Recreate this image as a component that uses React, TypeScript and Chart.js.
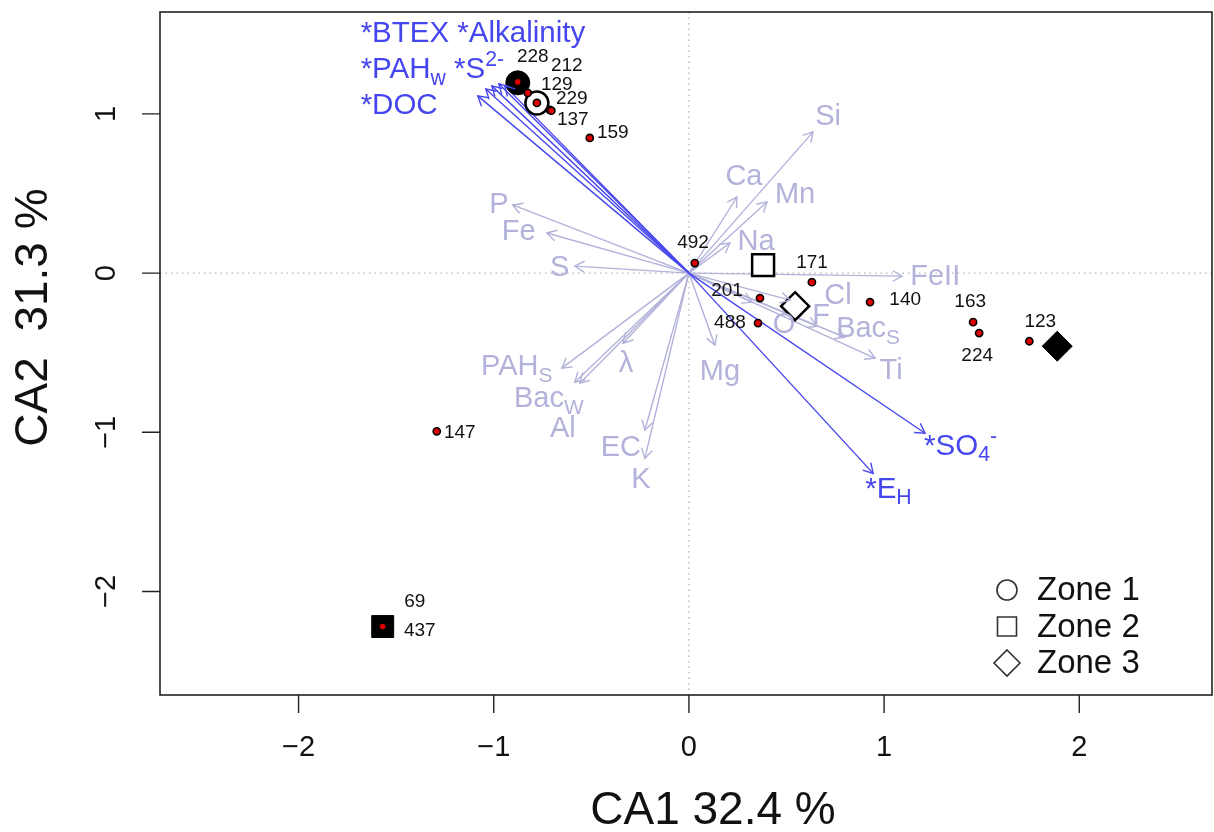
import React, { useEffect, useRef } from "react";
import { Chart, registerables } from "chart.js";
Chart.register(...registerables);

// ---------- axes ----------
const xTicks = [-2, -1, 0, 1, 2];
const yTicks = [-2, -1, 0, 1];
const xMin = -2.71, xMax = 2.68;
const yMin = -2.65, yMax = 1.64;
const xTitle = "CA1 32.4 %";
const yTitle = "CA2  31.3 %";

// ---------- environmental variables (not significant, light) ----------
const envNames = ["Si", "Ca", "Mn", "Na", "P", "Fe", "S", "FeII", "Cl", "F", "O", "Bac_{S}", "Ti", "Mg", "PAH_{S}", "λ", "Bac_{W}", "Al", "EC", "K"];
const envX = [0.636, 0.246, 0.4, 0.21, -0.903, -0.728, -0.585, 1.092, 0.518, 0.656, 0.323, 0.8, 0.954, 0.133, -0.651, -0.338, -0.585, -0.559, -0.226, -0.226];
const envY = [0.887, 0.478, 0.447, 0.189, 0.428, 0.252, 0.044, -0.019, -0.17, -0.333, -0.182, -0.403, -0.535, -0.453, -0.597, -0.44, -0.686, -0.692, -0.987, -1.164];
const envLabelX = [0.713, 0.282, 0.544, 0.344, -0.974, -0.872, -0.662, 1.262, 0.764, 0.677, 0.487, 0.918, 1.036, 0.159, -0.882, -0.323, -0.718, -0.646, -0.349, -0.246];
const envLabelY = [0.981, 0.604, 0.491, 0.195, 0.428, 0.258, 0.031, -0.025, -0.145, -0.27, -0.327, -0.352, -0.616, -0.623, -0.591, -0.572, -0.792, -0.981, -1.1, -1.302];

// ---------- significant variables (blue) ----------
const sigNames = ["*DOC", "*PAH_{w}", "*S^{2-}", "*BTEX", "*Alkalinity", "*SO_{4}^{-}", "*E_{H}"];
const sigX = [-1.082, -1.041, -1.01, -0.974, -0.944, 1.21, 0.944];
const sigY = [1.113, 1.157, 1.176, 1.189, 1.176, -1.006, -1.258];
const sigLabelText = ["*BTEX *Alkalinity", "*PAH_{w} *S^{2-}", "*DOC", "*SO_{4}^{-}", "*E_{H}"];
const sigLabelX = [-1.682, -1.682, -1.682, 1.205, 0.903];
const sigLabelY = [1.505, 1.275, 1.052, -1.09, -1.36];

// ---------- sites ----------
const siteNames = ["228", "212", "129", "229", "137", "159", "492", "171", "201", "488", "140", "163", "224", "123", "147", "69", "437"];
const siteX = [-0.877, -0.826, -0.779, -0.713, -0.705, -0.508, 0.03, 0.63, 0.364, 0.354, 0.928, 1.456, 1.487, 1.744, -1.292, -1.569, -1.569];
const siteY = [1.201, 1.132, 1.069, 1.025, 1.02, 0.849, 0.063, -0.057, -0.157, -0.314, -0.182, -0.308, -0.377, -0.428, -0.994, -2.22, -2.22];
const siteLabelX = [-0.8, -0.626, -0.677, -0.6, -0.595, -0.39, 0.021, 0.631, 0.195, 0.21, 1.108, 1.441, 1.477, 1.8, -1.174, -1.405, -1.379];
const siteLabelY = [1.358, 1.302, 1.182, 1.094, 0.962, 0.88, 0.189, 0.063, -0.113, -0.314, -0.17, -0.182, -0.522, -0.308, -1.0, -2.063, -2.245];

// ---------- zone markers ----------
const zoneNames = ["Zone 1", "Zone 2", "Zone 3"];
const zoneStyles = ["circle", "rect", "rectRot"];
const openX = [-0.779, 0.38, 0.544];
const openY = [1.069, 0.05, -0.208];
const filledX = [-0.877, -1.569, 1.887];
const filledY = [1.195, -2.22, -0.459];

const LIGHT = "#b2b2da";
const BLUE = "#4646ee";
const FONT = "'Liberation Sans', Arial, Helvetica, sans-serif";

type Seg = { t: string; k: number };
function parseRich(s: string): Seg[] {
  const segs: Seg[] = [];
  const re = /([_^])\{([^}]*)\}/g;
  let last = 0;
  let m: RegExpExecArray | null;
  while ((m = re.exec(s))) {
    if (m.index > last) segs.push({ t: s.slice(last, m.index), k: 0 });
    segs.push({ t: m[2], k: m[1] === "_" ? 1 : 2 });
    last = re.lastIndex;
  }
  if (last < s.length) segs.push({ t: s.slice(last), k: 0 });
  return segs;
}

function drawRich(ctx: CanvasRenderingContext2D, s: string, x: number, y: number, size: number, color: string, align: string) {
  const segs = parseRich(s);
  const widths = segs.map((sg) => {
    ctx.font = `${sg.k ? size * 0.72 : size}px ${FONT}`;
    return ctx.measureText(sg.t).width;
  });
  const total = widths.reduce((a, b) => a + b, 0);
  let cx = align === "center" ? x - total / 2 : align === "right" ? x - total : x;
  ctx.fillStyle = color;
  ctx.textBaseline = "middle";
  ctx.textAlign = "left";
  segs.forEach((sg, i) => {
    const fs = sg.k ? size * 0.72 : size;
    ctx.font = `${fs}px ${FONT}`;
    const dy = sg.k === 1 ? size * 0.3 : sg.k === 2 ? -size * 0.33 : 0;
    ctx.fillText(sg.t, cx, y + dy);
    cx += widths[i];
  });
}

function arrowHead(ctx: CanvasRenderingContext2D, x0: number, y0: number, x1: number, y1: number, len: number) {
  const a = Math.atan2(y1 - y0, x1 - x0);
  ctx.beginPath();
  ctx.moveTo(x1 - len * Math.cos(a - Math.PI / 6), y1 - len * Math.sin(a - Math.PI / 6));
  ctx.lineTo(x1, y1);
  ctx.lineTo(x1 - len * Math.cos(a + Math.PI / 6), y1 - len * Math.sin(a + Math.PI / 6));
  ctx.stroke();
}

const fmt = (v: number) => (v < 0 ? "\u2212" + Math.abs(v) : String(v));

const biplotPlugin = {
  id: "biplot",
  beforeDatasetsDraw(chart: any) {
    const { ctx, chartArea, scales } = chart;
    const { left, right, top, bottom } = chartArea;
    const x0 = scales.x.getPixelForValue(0);
    const y0 = scales.y.getPixelForValue(0);
    ctx.save();
    ctx.strokeStyle = "#b4b4b4";
    ctx.lineWidth = 1.3;
    ctx.setLineDash([1.5, 4]);
    ctx.beginPath();
    ctx.moveTo(x0, top);
    ctx.lineTo(x0, bottom);
    ctx.moveTo(left, y0);
    ctx.lineTo(right, y0);
    ctx.stroke();
    ctx.restore();
  },
  afterDatasetsDraw(chart: any) {
    const { ctx, chartArea, scales } = chart;
    const { left, right, top, bottom } = chartArea;
    const sx = scales.x, sy = scales.y;
    const ox = sx.getPixelForValue(0), oy = sy.getPixelForValue(0);
    ctx.save();
    ctx.lineWidth = 1.4;
    // arrow heads
    ctx.strokeStyle = LIGHT;
    envX.forEach((v, i) => arrowHead(ctx, ox, oy, sx.getPixelForValue(v), sy.getPixelForValue(envY[i]), 11));
    ctx.strokeStyle = BLUE;
    sigX.forEach((v, i) => arrowHead(ctx, ox, oy, sx.getPixelForValue(v), sy.getPixelForValue(sigY[i]), 11));

    // variable labels
    envNames.forEach((n, i) => drawRich(ctx, n, sx.getPixelForValue(envLabelX[i]), sy.getPixelForValue(envLabelY[i]), 29, LIGHT, "center"));
    sigLabelText.forEach((n, i) => drawRich(ctx, n, sx.getPixelForValue(sigLabelX[i]), sy.getPixelForValue(sigLabelY[i]), 29.5, BLUE, "left"));

    // site labels
    siteNames.forEach((n, i) => drawRich(ctx, n, sx.getPixelForValue(siteLabelX[i]), sy.getPixelForValue(siteLabelY[i]), 19, "#111", "center"));

    // box
    ctx.strokeStyle = "#222";
    ctx.lineWidth = 1.6;
    ctx.strokeRect(left, top, right - left, bottom - top);
    // ticks
    ctx.lineWidth = 1.4;
    ctx.beginPath();
    xTicks.forEach((v) => {
      const px = sx.getPixelForValue(v);
      ctx.moveTo(px, bottom);
      ctx.lineTo(px, bottom + 18);
    });
    yTicks.forEach((v) => {
      const py = sy.getPixelForValue(v);
      ctx.moveTo(left - 18, py);
      ctx.lineTo(left, py);
    });
    ctx.stroke();
    ctx.fillStyle = "#111";
    ctx.textAlign = "center";
    ctx.textBaseline = "middle";
    ctx.font = `29px ${FONT}`;
    xTicks.forEach((v) => ctx.fillText(fmt(v), sx.getPixelForValue(v), bottom + 53));
    yTicks.forEach((v) => {
      ctx.save();
      ctx.translate(left - 53, sy.getPixelForValue(v));
      ctx.rotate(-Math.PI / 2);
      ctx.fillText(fmt(v), 0, 0);
      ctx.restore();
    });
    // titles
    ctx.font = `46px ${FONT}`;
    ctx.fillText(xTitle, (left + right) / 2 + 27, bottom + 116);
    ctx.save();
    ctx.translate(34, (top + bottom) / 2 - 36);
    ctx.rotate(-Math.PI / 2);
    ctx.fillText(yTitle, 0, 0);
    ctx.restore();

    // legend
    const lx = right - 205;
    const ly = bottom - 105;
    zoneNames.forEach((n, i) => {
      const cy = ly + i * 36.5;
      ctx.strokeStyle = "#333";
      ctx.lineWidth = 1.6;
      ctx.beginPath();
      if (zoneStyles[i] === "circle") ctx.arc(lx, cy, 10, 0, Math.PI * 2);
      else if (zoneStyles[i] === "rect") ctx.rect(lx - 9.5, cy - 9.5, 19, 19);
      else {
        ctx.moveTo(lx, cy - 13);
        ctx.lineTo(lx + 13, cy);
        ctx.lineTo(lx, cy + 13);
        ctx.lineTo(lx - 13, cy);
        ctx.closePath();
      }
      ctx.stroke();
      ctx.fillStyle = "#111";
      ctx.font = `33px ${FONT}`;
      ctx.textAlign = "left";
      ctx.textBaseline = "middle";
      ctx.fillText(n, lx + 30, cy + 1);
    });
    ctx.restore();
  },
};

export default function App() {
  const ref = useRef<HTMLCanvasElement>(null);
  useEffect(() => {
    if (!ref.current) return;
    const datasets: any[] = [];
    datasets.push({
      label: "sites",
      data: siteX.map((x, i) => ({ x, y: siteY[i] })),
      pointRadius: 3.6,
      pointBackgroundColor: "#dd0000",
      pointBorderColor: "#000",
      pointBorderWidth: 1.6,
      showLine: false,
    });
    datasets.push({
      label: "open zones",
      data: openX.map((x, i) => ({ x, y: openY[i] })),
      pointStyle: zoneStyles,
      pointRadius: [11.5, 15.5, 14],
      pointBackgroundColor: "#ffffff",
      pointBorderColor: "#000",
      pointBorderWidth: 2.5,
      showLine: false,
    });
    datasets.push({
      label: "filled zones",
      data: filledX.map((x, i) => ({ x, y: filledY[i] })),
      pointStyle: zoneStyles,
      pointRadius: [12, 15.5, 15],
      pointBackgroundColor: "#000",
      pointBorderColor: "#000",
      pointBorderWidth: 1,
      showLine: false,
    });
    sigX.forEach((v, i) => {
      datasets.push({
        label: sigNames[i],
        data: [{ x: 0, y: 0 }, { x: v, y: sigY[i] }],
        showLine: true,
        borderColor: BLUE,
        borderWidth: 1.4,
        pointRadius: 0,
      });
    });
    envX.forEach((v, i) => {
      datasets.push({
        label: envNames[i],
        data: [{ x: 0, y: 0 }, { x: v, y: envY[i] }],
        showLine: true,
        borderColor: LIGHT,
        borderWidth: 1.4,
        pointRadius: 0,
      });
    });
    const chart = new Chart(ref.current, {
      type: "scatter",
      data: { datasets },
      options: {
        responsive: false,
        animation: false,
        devicePixelRatio: 1,
        layout: { autoPadding: false, padding: { left: 160, top: 12, right: 2, bottom: 137 } },
        scales: {
          x: { type: "linear", min: xMin, max: xMax, display: false },
          y: { type: "linear", min: yMin, max: yMax, display: false },
        },
        plugins: { legend: { display: false }, tooltip: { enabled: false } },
      },
      plugins: [biplotPlugin],
    } as any);
    return () => chart.destroy();
  }, []);
  return (
    <div style={{ position: "fixed", left: 0, top: 0, width: 1214, height: 832, background: "#fff" }}>
      <canvas ref={ref} width={1214} height={832} style={{ width: 1214, height: 832 }} />
    </div>
  );
}
